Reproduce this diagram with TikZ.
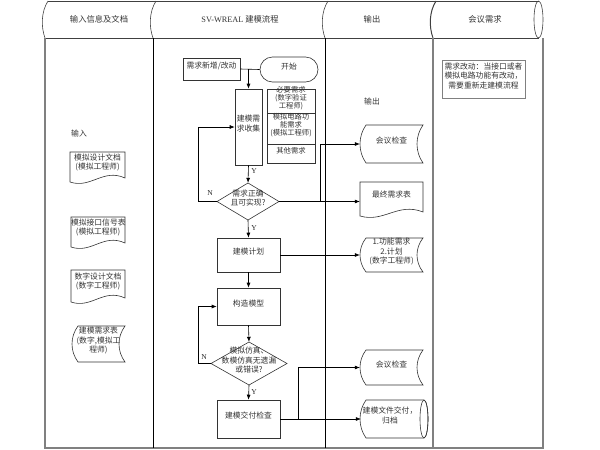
\documentclass[tikz,border=0pt]{standalone}
\usepackage{fontspec}
\setmainfont{Noto Sans CJK SC}
\newfontfamily\latf{Liberation Serif}
\usetikzlibrary{arrows.meta,fit,calc}
\newcommand\myfs{\fontsize{7.8}{9.4}\selectfont}
\newcommand\mysm{\fontsize{7.3}{7.8}\selectfont}
\newcommand\myhd{\fontsize{8.3}{9.5}\selectfont}
% document shape: x1 y1 x2 y2
\newcommand\docpath[4]{\draw[shp] (#1,#2) -- (#3,#2) -- (#3,{#4-5}) .. controls ({#1+0.6*(#3-#1)},{#4-15}) and ({#1+0.38*(#3-#1)},{#4+6}) .. (#1,{#4-1}) -- cycle;}
% stored data shape
\newcommand\storedpath[4]{\draw[shp] ({#1+6},#2) -- (#3,#2) .. controls ({#3-8},{#2+0.3*(#4-#2)}) and ({#3-8},{#2+0.7*(#4-#2)}) .. (#3,#4) -- ({#1+6},#4) .. controls ({#1-2},{#2+0.7*(#4-#2)}) and ({#1-2},{#2+0.3*(#4-#2)}) .. ({#1+6},#2) -- cycle;}
% diamond
\newcommand\diapath[4]{\draw[shp] (#1,{(#2+#4)/2}) -- ({(#1+#3)/2},#2) -- (#3,{(#2+#4)/2}) -- ({(#1+#3)/2},#4) -- cycle;}
% header divider
\newcommand\hdiv[1]{\draw[hdr] ({#1+3},1) .. controls ({#1-4},12) and ({#1-4},27) .. (#1,38);}
\begin{document}
\begin{tikzpicture}[x=1pt,y=-1pt,
  shp/.style={draw=black!80, line width=0.6pt},
  hdr/.style={draw=black!75, line width=0.6pt},
  border/.style={draw=black!50, line width=1.3pt},
  box/.style={shp, inner sep=0pt, align=center, font=\myfs, text=black!80},
  lab/.style={inner sep=0pt, align=center, font=\myfs, text=black!80},
  hlab/.style={inner sep=0pt, align=center, font=\myhd, text=black!80},
  yn/.style={inner sep=0pt, font=\latf\fontsize{7.5}{8}\selectfont, text=black!85},
  arr/.style={draw=black, line width=0.6pt, -{Latex[length=5pt,width=4pt]}},
  ln/.style={draw=black, line width=0.6pt}]
\useasboundingbox (0,0) rectangle (600,450);
% ---------- header ----------
\draw[hdr] (48,1) -- (538.5,1);
\draw[hdr] (45,38) -- (538.5,38);
\hdiv{45}\hdiv{153}\hdiv{325}
\draw[hdr, line width=1pt] (436,1) .. controls (429,12) and (429,27) .. (433,38);
\draw[hdr] (538.5,19.5) ellipse [x radius=4.5pt, y radius=18.5pt];
\node[hlab] (h1) at (99,19.5) {输入信息及文档};
\node[hlab] (h2) at (240,19.5) {{\latf SV-WREAL} 建模流程};
\node[hlab] (h3) at (372,19.5) {输出};
\node[hlab] (h4) at (485,19.5) {会议需求};
% ---------- lanes ----------
\draw[border] (45,38) -- (45,448) -- (543,448) -- (543,38);
\draw[ln, line width=0.7pt] (153,38) -- (153,448);
\draw[ln, line width=0.7pt] (325,38) -- (325,448);
\draw[border] (433,38) -- (433,448);
% ---------- lane 1: inputs ----------
\node[lab] (inlab) at (79,134) {输入};
\docpath{70}{152}{125}{183}
\node[lab, fit={(70,152) (125,179)}] (doc1) {模拟设计文档\\(模拟工程师)};
\docpath{71}{217}{125}{248}
\node[lab, fit={(71,217) (125,244)}] (doc2) {模拟接口信号表\\(模拟工程师)};
\docpath{71}{270}{125}{303}
\node[lab, fit={(71,270) (125,299)}] (doc3) {数字设计文档\\(数字工程师)};
\storedpath{72}{326}{125}{362}
\node[lab, fit={(74,326) (123,362)}] (doc4) {建模需求表\\(数字,模拟工\\程师)};
% ---------- lane 2: flow ----------
\node[box, fit={(183,58) (240,80)}] (req) {需求新增/改动};
\node[box, fit={(260,57) (318,82)}, rounded corners=12.5pt] (start) {开始};
\node[box, fit={(235,89) (262,165)}] (collect) {建模需\\求收集};
\node[box, font=\mysm, fit={(267,89) (315,113)}] (r1) {必要需求\\(数字验证\\工程师)};
\node[box, font=\mysm, fit={(267,113) (315,144)}] (r2) {模拟电路功\\能需求\\(模拟工程师)};
\node[box, font=\mysm, fit={(267,144) (315,163)}] (r3) {其他需求};
\diapath{217}{183}{279}{220}
\node[lab, fit={(217,183) (279,220)}] (d1) {需求正确\\且可实现?};
\node[box, fit={(217,238) (280,272)}] (plan) {建模计划};
\node[box, fit={(217,288) (280,325)}] (build) {构造模型};
\diapath{211}{342}{287}{385}
\node[lab, fit={(211,342) (287,385)}] (d2) {模拟仿真、\\数模仿真无遗漏\\或错误?};
\node[box, fit={(217,400) (280,438)}] (deliver) {建模交付检查};
% ---------- lane 3: outputs ----------
\node[lab] (outlab) at (372,102) {输出};
\storedpath{360}{125}{423}{163}
\node[lab, fit={(360,125) (423,163)}] (meet1) {会议检查};
\docpath{360}{182}{423}{217}
\node[lab, fit={(360,182) (423,213)}] (final) {最终需求表};
\storedpath{360}{238}{423}{272}
\node[lab, fit={(360,238) (423,272)}] (func) {1.功能需求\\2.计划\\(数字工程师)};
\storedpath{360}{350}{423}{385}
\node[lab, fit={(360,350) (423,385)}] (meet2) {会议检查};
\draw[shp] (366,400) -- (424,400) arc[start angle=90, end angle=-90, x radius=4pt, y radius=19pt] -- (366,438) .. controls (358,426.6) and (358,411.4) .. (366,400) -- cycle;
\draw[shp] (424,419) ellipse [x radius=4pt, y radius=19pt];
\node[lab, fit={(361,400) (419,438)}] (archive) {建模文件交付，\\归档};
% ---------- lane 4 ----------
\node[box, draw=black!50, fit={(442,60) (525,98)}] (note) {需求改动：当接口或者\\模拟电路功能有改动，\\需要重新走建模流程};
% ---------- connectors ----------
\draw[ln] (req.east) -- (start.west);
\coordinate (j1) at (248.5,69);
\draw[arr] (j1) -- (collect.north);
\draw[arr] (collect.south) -- (d1.north);
\node[yn] (y1) at (254,171) {Y};
\coordinate (n1) at (198,201.5);
\draw[arr] (d1.west) -- (n1) |- (collect.west);
\node[yn] (nl1) at (210,193) {N};
\draw[arr] (d1.east) -- (d1.east -| final.west);
\coordinate (b1) at (320,201.5);
\draw[arr] (b1) |- (meet1.west);
\draw[arr] (d1.south) -- (plan.north);
\node[yn] (y2) at (254,228) {Y};
\draw[arr] (plan.east) -- (func.west);
\draw[arr] (plan.south) -- (build.north);
\draw[arr] (build.south) -- (d2.north);
\coordinate (n2) at (198,363.5);
\draw[arr] (d2.west) -- (n2) |- (build.west);
\node[yn] (nl2) at (204,357) {N};
\draw[arr] (d2.south) -- (deliver.north);
\node[yn] (y3) at (254,392) {Y};
\draw[arr] (deliver.east) -- (archive.west);
\coordinate (b2) at (298,419);
\draw[arr] (b2) |- (meet2.west);
\end{tikzpicture}
\end{document}
